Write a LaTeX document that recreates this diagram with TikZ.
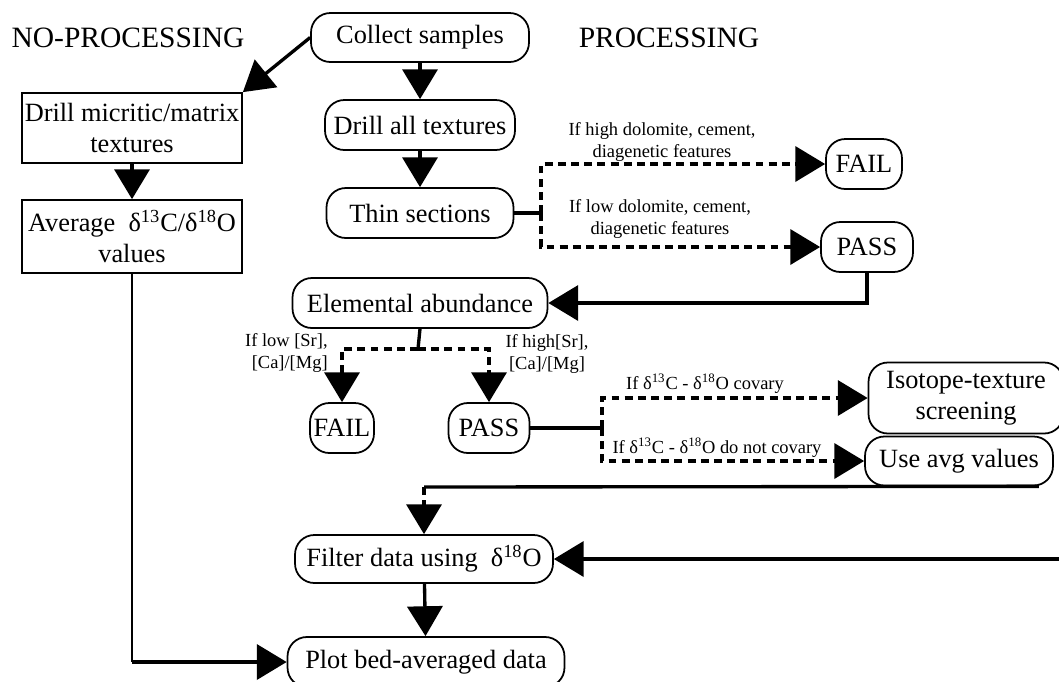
\documentclass[tikz,border=0pt]{standalone}
\usepackage{fontspec}
\setmainfont{Liberation Serif}
\usetikzlibrary{arrows.meta}

\begin{document}
\begin{tikzpicture}[x=0.02cm,y=-0.02cm,
    every node/.style={inner sep=0pt, font=\fontsize{15}{17.5}\selectfont},
    head/.style={font=\fontsize{16.8}{19}\selectfont},
    rbox/.style={draw, line width=1pt, rounded corners=11pt, align=center},
    sbox/.style={draw, line width=1pt, align=center},
    note/.style={font=\fontsize{10.5}{12.5}\selectfont, align=center},
    link/.style={line width=1.9pt},
    flow/.style={link, -{Triangle[length=17pt,width=20pt]}},
    dlink/.style={link, dash pattern=on 4.5pt off 3pt},
    dflow/.style={flow, dash pattern=on 4.5pt off 3pt}]
  \useasboundingbox (0,0) rectangle (1059,681);
  % headings
  \node [head] (noproc) at (128,38) {NO-PROCESSING};
  \node [head] (proc) at (669,38) {PROCESSING};
  % processing column
  \node [rbox, minimum width=4.36cm, minimum height=0.98cm] (collect) at (420,37.5) {Collect samples};
  \node [rbox, minimum width=3.8cm, minimum height=1cm] (drillall) at (420,125) {Drill all textures};
  \node [rbox, minimum width=3.74cm, minimum height=1cm] (thin) at (420,213) {Thin sections};
  \node [rbox, minimum width=1.52cm, minimum height=1cm] (failA) at (864,164) {FAIL};
  \node [rbox, minimum width=1.84cm, minimum height=1cm] (passA) at (867,247) {PASS};
  \node [rbox, minimum width=5.1cm, minimum height=1cm] (elem) at (420,303) {Elemental abundance};
  \node [rbox, minimum width=1.28cm, minimum height=1cm] (failB) at (342,428) {FAIL};
  \node [rbox, minimum width=1.62cm, minimum height=1cm] (passB) at (489,428) {PASS};
  \node [rbox, minimum width=3.9cm, minimum height=1.42cm] (iso) at (966,398) {Isotope-texture\\screening};
  \node [rbox, minimum width=3.76cm, minimum height=0.98cm] (avg) at (959,461) {Use avg values};
  \node [rbox, minimum width=5.16cm, minimum height=0.96cm] (filter) at (424,559) {Filter data using\enspace δ\textsuperscript{18}O};
  \node [rbox, minimum width=5.54cm, minimum height=1cm] (plot) at (426,662) {Plot bed-averaged data};
  % no-processing column
  \node [sbox, minimum width=4.4cm, minimum height=1.4cm] (drillmic) at (132,128) {Drill micritic/matrix\\textures};
  \node [sbox, minimum width=4.4cm, minimum height=1.46cm] (average) at (132,236.5) {Average\enspace δ\textsuperscript{13}C/δ\textsuperscript{18}O\\values};
  % condition labels
  \node [note] (hidolo) at (662,142) {If high dolomite, cement,\\diagenetic features};
  \node [note] (lodolo) at (660,219) {If low dolomite, cement,\\diagenetic features};
  \node [note, align=right, anchor=east] (losr) at (328,353) {If low [Sr],\\{}[Ca]/[Mg]};
  \node [note] (hisr) at (547,354) {If high[Sr],\\{}[Ca]/[Mg]};
  \node [note] (cov) at (705,384) {If δ\textsuperscript{13}C - δ\textsuperscript{18}O covary};
  \node [note] (nocov) at (717,448) {If δ\textsuperscript{13}C - δ\textsuperscript{18}O do not covary};
  % split points
  \coordinate (thinsplit) at (541,213);
  \coordinate (elemsplit) at (418,349);
  \coordinate (passsplit) at (602,428);
  \coordinate (avgturn) at (424,487);
  \coordinate (avgcorner) at (average.south |- plot.west);
  \coordinate (isoout) at (1065,559);
  % connectors
  \draw [flow] (collect) -- (drillall);
  \draw [flow] (drillall) -- (thin);
  \draw [flow] (collect.west) -- (drillmic.north east);
  \draw [flow] (drillmic) -- (average);
  \draw [line width=1pt] (average.south) -- (avgcorner);
  \draw [flow] (avgcorner) -- (plot.west);
  \draw [link] (thin.east) -- (thinsplit);
  \draw [dflow] (thinsplit) |- (failA.west);
  \draw [dflow] (thinsplit) |- (passA.west);
  \draw [flow] (passA.south) |- (elem.east);
  \draw [link] (elem.south) -- (elemsplit);
  \draw [dflow] (elemsplit) -| (failB.north);
  \draw [dflow] (elemsplit) -| (passB.north);
  \draw [link] (passB.east) -- (passsplit);
  \draw [dflow] (passsplit) |- (iso.west);
  \draw [dflow] (passsplit) |- (avg.west);
  \draw [link] ([xshift=-0.3cm]avg.south east) -- (avgturn);
  \draw [dflow] (avgturn) -- (filter.north);
  \draw [flow] (isoout) -- (filter.east);
  \draw [flow] (filter) -- (plot);
\end{tikzpicture}
\end{document}
